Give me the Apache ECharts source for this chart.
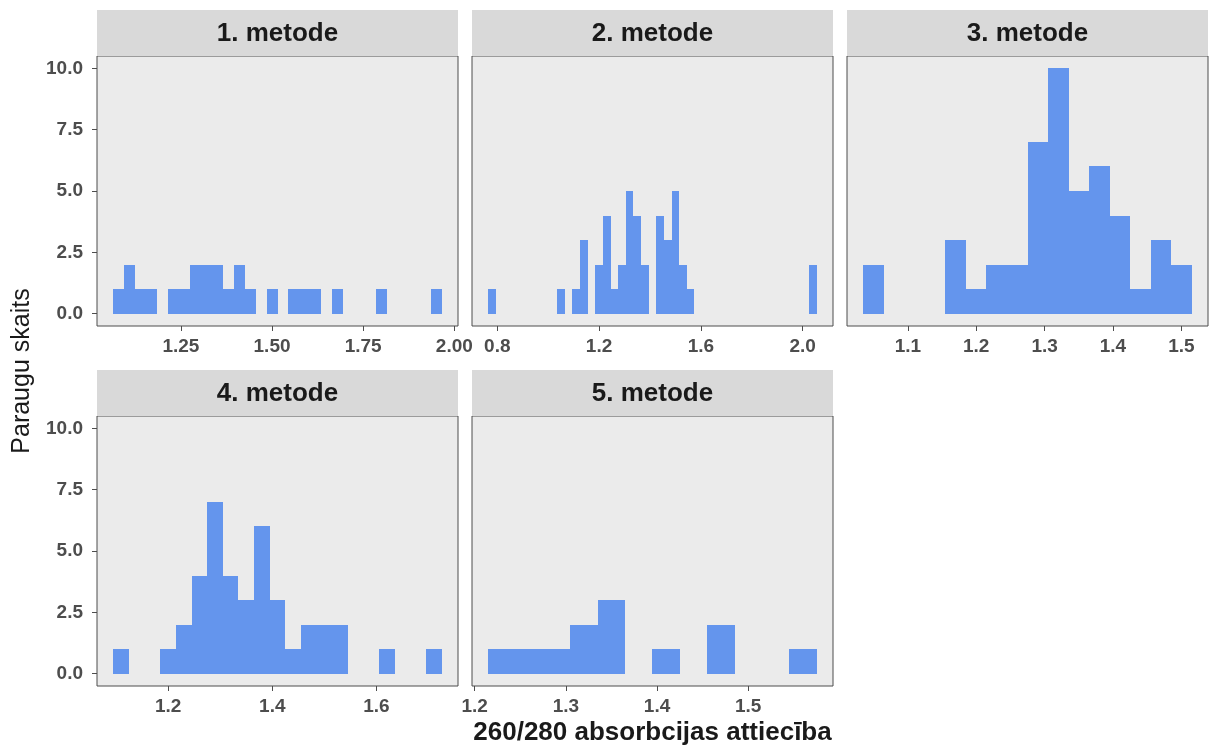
<!DOCTYPE html>
<html>
<head>
<meta charset="utf-8">
<script src="https://cdn.jsdelivr.net/npm/echarts@6/dist/echarts.min.js"></script>
<style>
  html, body { margin: 0; padding: 0; background: #ffffff; }
  #chart { width: 1216px; height: 749px; }
</style>
</head>
<body>
<div id="chart"></div>
<script>
// Histogram facets: 260/280 absorbance ratio per extraction method
const panelTitles = ['1. metode', '2. metode', '3. metode', '4. metode', '5. metode'];
const binWidth = 0.03;
const firstBinStart = [1.065, 0.765, 1.035, 1.095, 1.215];

const counts1 = [1, 2, 1, 1, 0, 1, 1, 2, 2, 2, 1, 2, 1, 0, 1, 0, 1, 1, 1, 0, 1, 0, 0, 0, 1, 0, 0, 0, 0, 1];
const counts2 = [1, 0, 0, 0, 0, 0, 0, 0, 0, 1, 0, 1, 3, 0, 2, 4, 1, 2, 5, 4, 2, 0, 4, 3, 5, 2, 1,
                 0, 0, 0, 0, 0, 0, 0, 0, 0, 0, 0, 0, 0, 0, 0, 2];
const counts3 = [2, 0, 0, 0, 3, 1, 2, 2, 7, 10, 5, 6, 4, 1, 3, 2];
const counts4 = [1, 0, 0, 1, 2, 4, 7, 4, 3, 6, 3, 1, 2, 2, 2, 0, 0, 1, 0, 0, 1];
const counts5 = [1, 1, 1, 2, 3, 0, 1, 0, 2, 0, 0, 1];
const panelCounts = [counts1, counts2, counts3, counts4, counts5];

const xTicks1 = [1.25, 1.5, 1.75, 2.0];
const xTicks2 = [0.8, 1.2, 1.6, 2.0];
const xTicks3 = [1.1, 1.2, 1.3, 1.4, 1.5];
const xTicks4 = [1.2, 1.4, 1.6];
const xTicks5 = [1.2, 1.3, 1.4, 1.5];
const panelXTicks = [xTicks1, xTicks2, xTicks3, xTicks4, xTicks5];
const xTickDecimals = [2, 1, 1, 1, 1];

const yTicks = [0, 2.5, 5, 7.5, 10];
const yRange = [-0.5, 10.5];

const xTitle = '260/280 absorbcijas attiecība';
const yTitle = 'Paraugu skaits';

// facet layout (3 columns, 2 rows)
const colLeft = [97, 472, 847];
const rowTop = [56, 416];
const panelW = 361, panelH = 270, stripH = 46;

const FONT = '"Liberation Sans", Arial, Helvetica, sans-serif';
const BAR = '#6495ED';

const chart = echarts.init(document.getElementById('chart'), null, { renderer: 'canvas' });

const grids = [], xAxes = [], yAxes = [], series = [], graphics = [];

panelCounts.forEach((counts, i) => {
  const col = i % 3, row = Math.floor(i / 3);
  const left = colLeft[col], top = rowTop[row];
  const lo = firstBinStart[i];
  const hi = lo + counts.length * binWidth;
  const pad = 0.05 * (hi - lo);

  grids.push({
    left: left, top: top, width: panelW, height: panelH,
    show: true, backgroundColor: '#EBEBEB', borderColor: '#4d4d4d', borderWidth: 1,
    containLabel: false
  });

  const dec = xTickDecimals[i];
  xAxes.push({
    type: 'value', gridIndex: i, min: lo - pad, max: hi + pad, position: 'bottom',
    axisLine: { show: false, onZero: false },
    splitLine: { show: false },
    axisTick: { show: true, length: 5, customValues: panelXTicks[i], lineStyle: { color: '#4d4d4d', width: 1 } },
    axisLabel: {
      show: true, customValues: panelXTicks[i], margin: 11,
      color: '#4D4D4D', fontFamily: FONT, fontSize: 19, fontWeight: 'bold',
      formatter: v => Number(v).toFixed(dec)
    }
  });

  const showY = col === 0;
  yAxes.push({
    type: 'value', gridIndex: i, min: yRange[0], max: yRange[1], position: 'left',
    axisLine: { show: false, onZero: false },
    splitLine: { show: false },
    axisTick: { show: showY, length: 5, customValues: yTicks, lineStyle: { color: '#4d4d4d', width: 1 } },
    axisLabel: {
      show: showY, customValues: yTicks, margin: 14,
      color: '#4D4D4D', fontFamily: FONT, fontSize: 19, fontWeight: 'bold',
      formatter: v => Number(v).toFixed(1)
    }
  });

  const data = [];
  counts.forEach((c, k) => {
    if (c > 0) data.push([lo + k * binWidth, lo + (k + 1) * binWidth, c]);
  });

  series.push({
    type: 'custom', xAxisIndex: i, yAxisIndex: i, clip: true,
    data: data,
    encode: { x: [0, 1], y: 2 },
    renderItem: (params, api) => {
      const p0 = api.coord([api.value(0), api.value(2)]);
      const p1 = api.coord([api.value(1), 0]);
      // snap to whole pixels so neighbouring bins join without seams
      const x0 = Math.round(p0[0]), x1 = Math.round(p1[0]);
      const y0 = Math.round(p0[1]), y1 = Math.round(p1[1]);
      return {
        type: 'rect',
        shape: { x: x0, y: y0, width: x1 - x0, height: y1 - y0 },
        style: { fill: BAR }
      };
    }
  });

  // facet strip
  graphics.push({
    type: 'rect', silent: true,
    shape: { x: left, y: top - stripH, width: panelW, height: stripH },
    style: { fill: '#D9D9D9' }
  });
  graphics.push({
    type: 'text', silent: true,
    x: left + panelW / 2, y: top - stripH / 2 + 1,
    style: {
      text: panelTitles[i], fill: '#1A1A1A',
      font: 'bold 26px ' + FONT, align: 'center', verticalAlign: 'middle'
    }
  });
});

// axis titles
graphics.push({
  type: 'text', silent: true,
  x: (colLeft[0] + colLeft[2] + panelW) / 2, y: 733,
  style: { text: xTitle, fill: '#1A1A1A', font: 'bold 26px ' + FONT, align: 'center', verticalAlign: 'middle' }
});
graphics.push({
  type: 'text', silent: true,
  x: 22, y: (rowTop[0] + rowTop[1] + panelH) / 2, rotation: Math.PI / 2,
  style: { text: yTitle, fill: '#1A1A1A', font: '25px ' + FONT, align: 'center', verticalAlign: 'middle' }
});

chart.setOption({
  backgroundColor: '#ffffff',
  animation: false,
  grid: grids,
  xAxis: xAxes,
  yAxis: yAxes,
  series: series,
  graphic: { elements: graphics }
});
</script>
</body>
</html>
